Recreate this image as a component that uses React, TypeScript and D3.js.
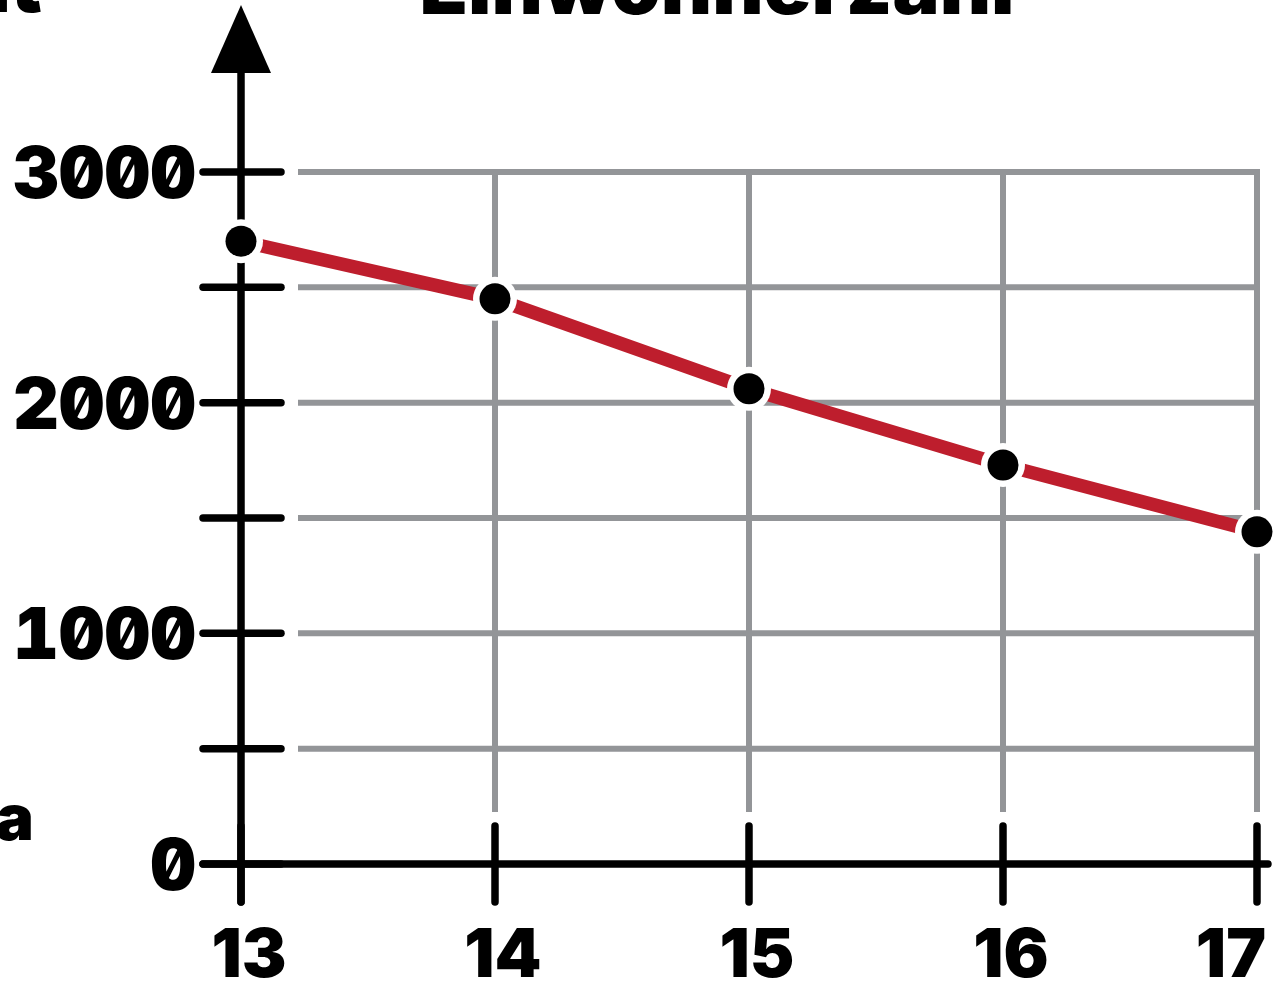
import React from "react";
import * as d3 from "d3";

const years = [13, 14, 15, 16, 17];
const values = [2700, 2450, 2060, 1730, 1440];
const yLabelTicks = [0, 1000, 2000, 3000];
const yMinorTicks = [0, 500, 1000, 1500, 2000, 2500, 3000];
const title = "Einwohnerzahl";

const W = 1281;
const H = 982;

export default function App() {
  const x = d3.scaleLinear().domain([13, 17]).range([241, 1257]);
  const y = d3.scaleLinear().domain([0, 3000]).range([864, 172]);
  const line = d3
    .line<number>()
    .x((_, i) => x(years[i]))
    .y((d) => y(d));
  const grey = "#939598";
  const font = "Inter, 'Liberation Sans', Arial, sans-serif";
  const ax = x(13);
  const ay = y(0);
  const xMax = x(17);
  const yTop = y(3000);

  return (
    <svg
      width={W}
      height={H}
      style={{ position: "absolute", left: 0, top: 0, background: "#fff" }}
      fontFamily={font}
    >
      {/* cropped texts */}
      <text x={717} y={14} textAnchor="middle" fontSize={78} fontWeight={900} fill="#000" textLength={595} lengthAdjust="spacingAndGlyphs">
        {title}
      </text>
      <text x={42} y={12} textAnchor="end" fontSize={78} fontWeight={900} fill="#000">
        Einheit
      </text>
      <text x={34} y={840} textAnchor="end" fontSize={64} fontWeight={900} fill="#000">
        a
      </text>

      {/* horizontal grid */}
      {yMinorTicks
        .filter((v) => v > 0)
        .map((v) => (
          <line key={"hg" + v} x1={298} x2={xMax} y1={y(v)} y2={y(v)} stroke={grey} strokeWidth={6} />
        ))}
      {/* vertical grid */}
      {years.slice(1).map((yr) => (
        <line key={"vg" + yr} x1={x(yr)} x2={x(yr)} y1={yTop - 3} y2={812} stroke={grey} strokeWidth={6} />
      ))}

      {/* y ticks */}
      {yMinorTicks.map((v) => (
        <line key={"yt" + v} x1={ax - 38} x2={ax + 40} y1={y(v)} y2={y(v)} stroke="#000" strokeWidth={7.5} strokeLinecap="round" />
      ))}
      {/* x ticks */}
      {years.map((yr) => (
        <line key={"xt" + yr} x1={x(yr)} x2={x(yr)} y1={ay - 38} y2={ay + 38} stroke="#000" strokeWidth={7.5} strokeLinecap="round" />
      ))}
      {/* axes */}
      <line x1={ax - 38} x2={xMax + 11} y1={ay} y2={ay} stroke="#000" strokeWidth={7.5} strokeLinecap="round" />
      <line x1={ax} x2={ax} y1={ay + 38} y2={60} stroke="#000" strokeWidth={7.5} strokeLinecap="round" />
      <path d={`M${ax},5 L${ax + 30},73 L${ax - 30},73 Z`} fill="#000" />

      {/* y labels */}
      {yLabelTicks.map((v) => (
        <text
          key={"yl" + v}
          x={196}
          y={y(v) + 26}
          textAnchor="end"
          fontSize={71}
          fontWeight={900}
          style={{ fontFeatureSettings: "'zero' 1, 'tnum' 1" }}
        >
          {v}
        </text>
      ))}
      {/* x labels */}
      {years.map((yr, i) => (
        <text
          key={"xl" + yr}
          x={i === years.length - 1 ? 1266 : x(yr) + 8}
          y={977}
          textAnchor={i === years.length - 1 ? "end" : "middle"}
          fontSize={67}
          fontWeight={900}
        >
          {yr}
        </text>
      ))}

      {/* data line */}
      <path d={line(values) || ""} fill="none" stroke="#BE1E2D" strokeWidth={13.5} />
      {values.map((v, i) => (
        <g key={"pt" + i}>
          <circle cx={x(years[i])} cy={y(v)} r={22} fill="#fff" />
          <circle cx={x(years[i])} cy={y(v)} r={15.5} fill="#000" />
        </g>
      ))}
    </svg>
  );
}
